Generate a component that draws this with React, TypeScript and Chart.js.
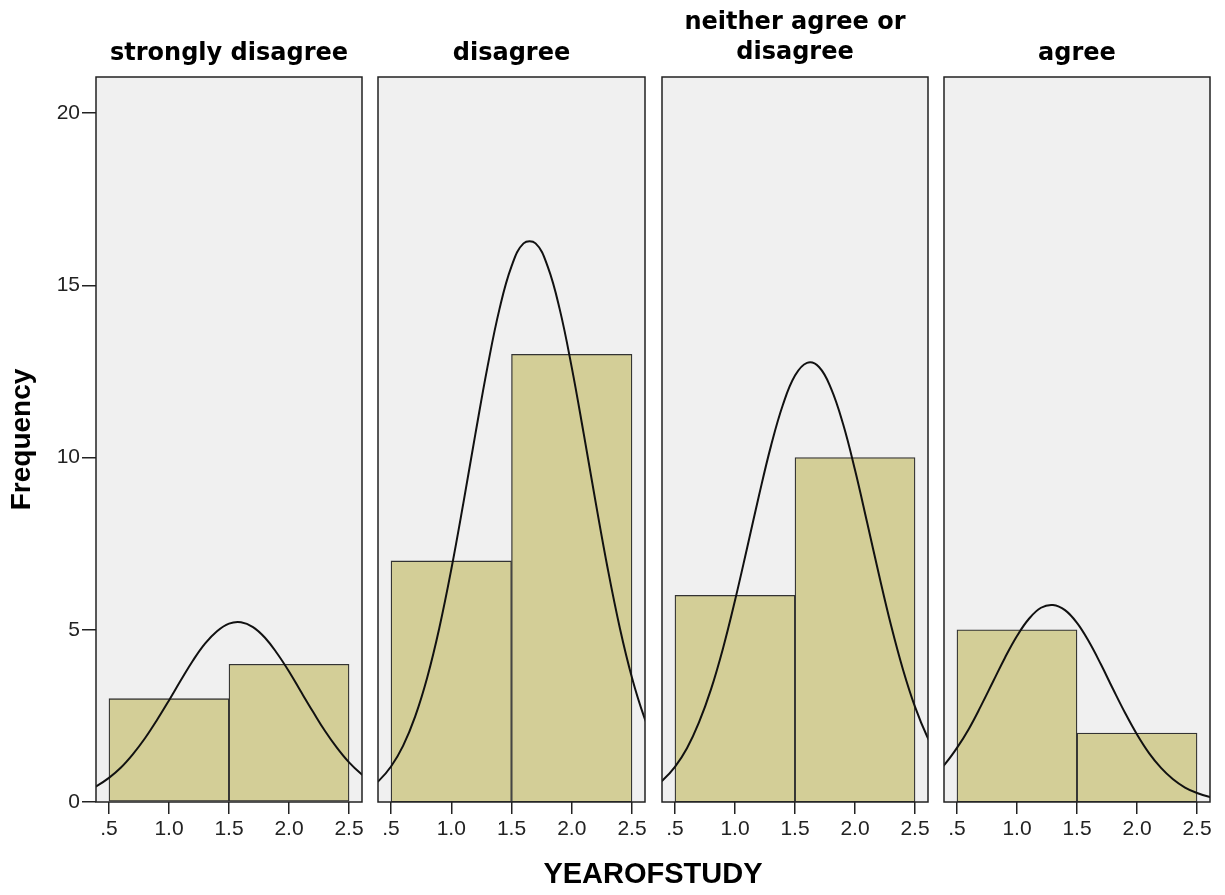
import React, { useEffect, useRef } from "react";
import { Chart, registerables } from "chart.js";

Chart.register(...registerables);

// ---------- data ----------
const panelTitles: string[][] = [
  ["strongly disagree"],
  ["disagree"],
  ["neither agree or", "disagree"],
  ["agree"],
];

const binCenters = [1, 2];
const countsStronglyDisagree = [3, 4];
const countsDisagree = [7, 13];
const countsNeither = [6, 10];
const countsAgree = [5, 2];

const curveX = [
  0.3, 0.4, 0.5, 0.6, 0.7, 0.8, 0.9, 1.0, 1.1, 1.2, 1.3, 1.4, 1.5,
  1.6, 1.7, 1.8, 1.9, 2.0, 2.1, 2.2, 2.3, 2.4, 2.5, 2.6, 2.7,
];
const curveStronglyDisagree = [
  0.31, 0.47, 0.7, 1.0, 1.39, 1.85, 2.38, 2.95, 3.54, 4.11, 4.6, 4.96, 5.18,
  5.22, 5.08, 4.77, 4.32, 3.79, 3.2, 2.62, 2.06, 1.57, 1.15, 0.82, 0.56,
];
const curveDisagree = [
  0.36, 0.62, 1.03, 1.63, 2.48, 3.61, 5.04, 6.75, 8.67, 10.68, 12.62, 14.31, 15.55,
  16.22, 16.22, 15.55, 14.31, 12.62, 10.68, 8.67, 6.75, 5.04, 3.61, 2.48, 1.63,
];
const curveNeither = [
  0.38, 0.64, 1.02, 1.56, 2.31, 3.27, 4.46, 5.85, 7.36, 8.9, 10.34, 11.54, 12.38,
  12.75, 12.63, 12.01, 10.98, 9.64, 8.13, 6.59, 5.13, 3.84, 2.76, 1.91, 1.27,
];
const curveAgree = [
  0.74, 1.1, 1.57, 2.13, 2.79, 3.49, 4.19, 4.82, 5.32, 5.64, 5.72, 5.57, 5.2,
  4.65, 3.99, 3.28, 2.59, 1.96, 1.42, 0.99, 0.66, 0.42, 0.26, 0.15, 0.09,
];

const xTickValues = [0.5, 1.0, 1.5, 2.0, 2.5];
const yTickValues = [0, 5, 10, 15, 20];
const xAxisTitle = "YEAROFSTUDY";
const yAxisTitle = "Frequency";

const seriesCounts = [countsStronglyDisagree, countsDisagree, countsNeither, countsAgree];
const seriesCurves = [curveStronglyDisagree, curveDisagree, curveNeither, curveAgree];

// ---------- layout / style ----------
const PANEL_LEFT = [96, 378, 662, 944];
const PANEL_RIGHT = [362, 645, 928, 1210];
const CANVAS_H = 860;
const X_AXIS_H = 58;
const SIDE_PAD = 20;
const X_MIN = 0.392;
const X_MAX = 2.608;
const Y_MAX = 21.05;

const BAR_FILL = "#d3ce97";
const PLOT_BG = "#f0f0f0";
const FRAME = "#222222";
const TICK_COLOR = "#222222";

const frame = {
  id: "panelFrame",
  beforeDatasetsDraw(chart: any) {
    const { ctx, chartArea: a } = chart;
    ctx.save();
    ctx.fillStyle = PLOT_BG;
    ctx.fillRect(a.left, a.top, a.right - a.left, a.bottom - a.top);
    ctx.restore();
  },
  afterDatasetsDraw(chart: any) {
    const { ctx, chartArea: a } = chart;
    ctx.save();
    ctx.strokeStyle = FRAME;
    ctx.lineWidth = 1.5;
    ctx.strokeRect(a.left, a.top, a.right - a.left, a.bottom - a.top);
    ctx.restore();
  },
};

function makeConfig(i: number): any {
  const first = i === 0;
  const twoLine = panelTitles[i].length > 1;
  return {
    type: "bar",
    data: {
      datasets: [
        {
          type: "line",
          order: 0,
          data: curveX.map((x, k) => ({ x, y: seriesCurves[i][k] })),
          borderColor: "#111111",
          borderWidth: 2,
          pointRadius: 0,
          tension: 0.4,
          fill: false,
        },
        {
          type: "bar",
          order: 1,
          data: binCenters.map((x, k) => ({ x, y: seriesCounts[i][k] })),
          backgroundColor: BAR_FILL,
          borderColor: "#333333",
          borderWidth: 1.3,
          borderSkipped: false,
          barThickness: "flex",
          barPercentage: 1,
          categoryPercentage: 1,
        },
      ],
    },
    options: {
      responsive: false,
      animation: false,
      events: [],
      layout: {
        padding: { left: first ? 0 : SIDE_PAD, right: SIDE_PAD, top: 0, bottom: 0 },
      },
      plugins: {
        legend: { display: false },
        tooltip: { enabled: false },
        title: {
          display: true,
          text: panelTitles[i],
          fullSize: false,
          color: "#000000",
          font: { family: "DejaVu Sans", size: 24, weight: "bold", lineHeight: 1.25 },
          padding: twoLine ? { top: 8, bottom: 9 } : { top: 39, bottom: 8 },
        },
      },
      scales: {
        x: {
          type: "linear",
          min: X_MIN,
          max: X_MAX,
          offset: false,
          afterBuildTicks: (s: any) => {
            s.ticks = xTickValues.map((v) => ({ value: v }));
          },
          afterFit: (s: any) => {
            s.height = X_AXIS_H;
          },
          ticks: {
            autoSkip: false,
            maxRotation: 0,
            padding: 3,
            color: TICK_COLOR,
            font: { family: "Liberation Sans", size: 21 },
            callback: (v: any) => (Number(v) === 0.5 ? ".5" : Number(v).toFixed(1)),
          },
          grid: {
            offset: false,
            drawOnChartArea: false,
            drawTicks: true,
            tickLength: 12,
            color: FRAME,
            lineWidth: 1.5,
          },
          border: { display: false },
        },
        y: {
          type: "linear",
          display: first,
          min: 0,
          max: Y_MAX,
          afterBuildTicks: (s: any) => {
            s.ticks = yTickValues.map((v) => ({ value: v }));
          },
          afterFit: (s: any) => {
            if (first) s.width = PANEL_LEFT[0];
          },
          ticks: {
            padding: 2,
            color: TICK_COLOR,
            font: { family: "Liberation Sans", size: 21 },
            callback: (v: any) => String(v),
          },
          grid: {
            drawOnChartArea: false,
            drawTicks: true,
            tickLength: 14,
            color: FRAME,
            lineWidth: 1.5,
          },
          border: { display: false },
          title: {
            display: true,
            text: yAxisTitle,
            color: "#000000",
            font: { family: "Liberation Sans", size: 28, weight: "bold", lineHeight: 1.2 },
            padding: { top: 5, bottom: 0 },
          },
        },
      },
    },
    plugins: [frame],
  };
}

export default function App() {
  const r0 = useRef<HTMLCanvasElement>(null);
  const r1 = useRef<HTMLCanvasElement>(null);
  const r2 = useRef<HTMLCanvasElement>(null);
  const r3 = useRef<HTMLCanvasElement>(null);
  const refs = [r0, r1, r2, r3];

  useEffect(() => {
    const charts = refs.map((r, i) => new Chart(r.current as HTMLCanvasElement, makeConfig(i)));
    return () => charts.forEach((c) => c.destroy());
  }, []);

  return (
    <div
      style={{
        position: "absolute",
        left: 0,
        top: 0,
        width: 1225,
        height: 895,
        background: "#ffffff",
        overflow: "hidden",
      }}
    >
      {refs.map((r, i) => {
        const left = i === 0 ? 0 : PANEL_LEFT[i] - SIDE_PAD;
        const width = PANEL_RIGHT[i] + SIDE_PAD - left;
        return (
          <canvas
            key={i}
            ref={r}
            width={width}
            height={CANVAS_H}
            style={{ position: "absolute", left, top: 0, width, height: CANVAS_H, display: "block" }}
          />
        );
      })}
      <div
        style={{
          position: "absolute",
          left: 153,
          top: 859,
          width: 1000,
          textAlign: "center",
          fontFamily: "'Liberation Sans', Arial, sans-serif",
          fontWeight: "bold",
          fontSize: 29,
          lineHeight: "29px",
          color: "#000000",
        }}
      >
        {xAxisTitle}
      </div>
    </div>
  );
}
